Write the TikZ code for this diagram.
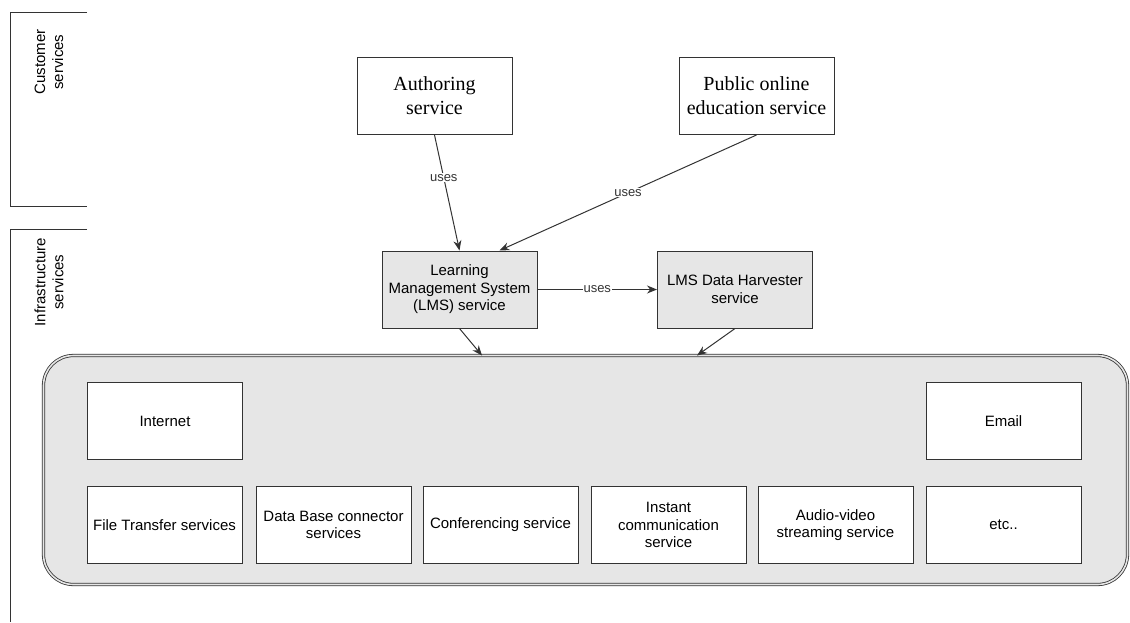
\documentclass[tikz,border=0pt]{standalone}
\usepackage{fontspec}
\setmainfont{Liberation Sans}
\newfontfamily\servserif{Liberation Serif}
\usetikzlibrary{arrows.meta}
\definecolor{boxgray}{HTML}{E6E6E6}
\definecolor{edgegray}{HTML}{333333}
\begin{document}
\begin{tikzpicture}[x=1pt,y=-1pt,
    svc/.style={draw=edgegray,line width=1pt,fill=white,minimum width=155pt,minimum height=77pt,
      align=center,inner sep=2pt,font=\fontsize{15}{17.5}\selectfont},
    topsvc/.style={svc,font=\servserif\fontsize{20}{24}\selectfont},
    infsvc/.style={svc,fill=boxgray},
    use/.style={-{Stealth[length=10pt,width=8pt]},line width=1pt,edgegray},
    uselbl/.style={fill=white,inner sep=1pt,font=\fontsize{13}{15}\selectfont,text=black!80}]
    \useasboundingbox (0,0) rectangle (1130,622);
    % side brackets
    \draw[edgegray,line width=1pt] (87,12) -- (10,12) -- (10,206) -- (87,206);
    \draw[edgegray,line width=1pt] (87,229) -- (10,229) -- (10,622);
    \node[rotate=90,align=center,font=\fontsize{15}{18}\selectfont] (custlbl) at (49,62) {Customer\\services};
    \node[rotate=90,align=center,font=\fontsize{15}{18}\selectfont] (infralbl) at (49,282) {Infrastructure\\services};
    % customer services
    \node[topsvc] (auth) at (434.5,96) {Authoring\\service};
    \node[topsvc] (pub) at (756.5,96) {Public online\\education service};
    % infrastructure services
    \node[infsvc] (lms) at (459.5,289.5) {Learning\\Management System\\(LMS) service};
    \node[infsvc] (harv) at (735,289.5) {LMS Data Harvester\\service};
    \node[draw=edgegray,double=boxgray,double distance=1.6pt,line width=0.8pt,fill=boxgray,
      rounded corners=30pt,minimum width=1084pt,minimum height=229pt,outer sep=0pt] (infra) at (585.5,470) {};
    \node[svc] (inet) at (165,421) {Internet};
    \node[svc] (mail) at (1003.5,421) {Email};
    \node[svc] (ftp) at (164.5,525) {File Transfer services};
    \node[svc] (dbc) at (333.5,525) {Data Base connector\\services};
    \node[svc] (conf) at (500.5,525) {Conferencing service};
    \node[svc] (chat) at (668.5,525) {Instant\\communication\\service};
    \node[svc] (avs) at (835.5,525) {Audio-video\\streaming service};
    \node[svc] (etc) at (1003.5,525) {etc..};
    % connectors
    \draw[use] (auth.south) -- node[uselbl,pos=0.37] {uses} (lms.north);
    \draw[use] (pub.south) -- node[uselbl] {uses} ([xshift=40pt]lms.north);
    \draw[use] (lms.east) -- node[uselbl] {uses} (harv.west);
    \draw[use] (lms.south) -- ([xshift=-103.5pt]infra.north);
    \draw[use] (harv.south) -- ([xshift=111.5pt]infra.north);
\end{tikzpicture}
\end{document}
